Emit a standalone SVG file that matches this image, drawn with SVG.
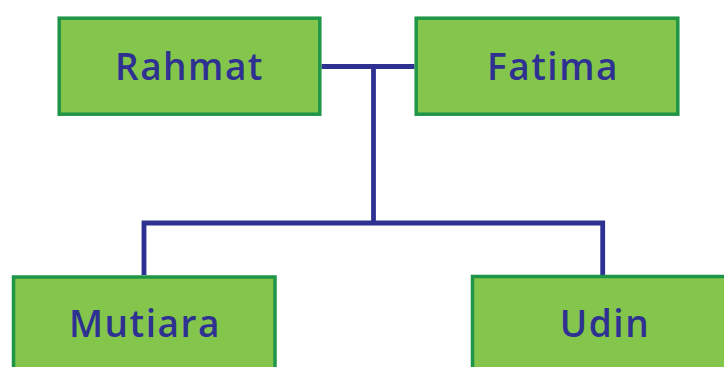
<svg xmlns="http://www.w3.org/2000/svg" width="724" height="367" viewBox="0 0 724 367">
<style>
.box{fill:#84c54b;stroke:#1f9548;stroke-width:3.5}
.lbl{font-family:"Open Sans","Noto Sans",sans-serif;font-weight:600;font-size:37px;letter-spacing:1.5px;fill:#2e3192;text-anchor:middle}
.con{fill:none;stroke:#2e3192;stroke-width:4.8;stroke-linecap:butt;stroke-linejoin:miter}
</style>
<rect width="724" height="367" fill="#ffffff"/>
<g id="connectors">
<path class="con" d="M321.5 66.5 H414.5"/>
<path class="con" d="M373.5 66.5 V223"/>
<path class="con" d="M144 275 V223 H602.7 V275"/>
</g>
<g id="rahmat">
<rect class="box" x="59.2" y="18.2" width="260.6" height="96"/>
<text class="lbl" x="189.5" y="80">Rahmat</text>
</g>
<g id="fatima">
<rect class="box" x="416.2" y="18.2" width="261.6" height="96"/>
<text class="lbl" x="553" y="80">Fatima</text>
</g>
<g id="mutiara">
<rect class="box" x="13.5" y="277" width="261.5" height="100"/>
<text class="lbl" x="145" y="337">Mutiara</text>
</g>
<g id="udin">
<rect class="box" x="472.5" y="276.5" width="270" height="100"/>
<text class="lbl" x="605" y="337">Udin</text>
</g>
</svg>
